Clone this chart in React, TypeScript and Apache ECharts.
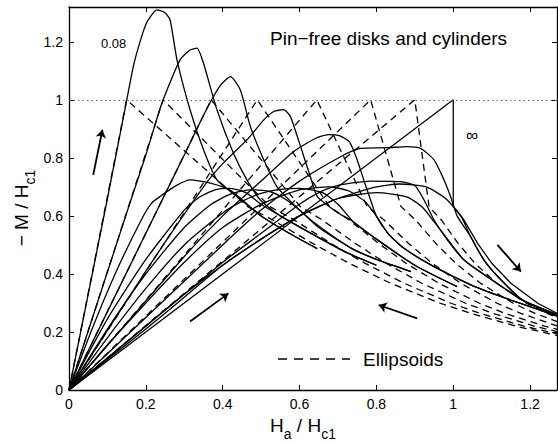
import React, { useEffect, useRef } from "react";
import * as echarts from "echarts";

// ---------- data (H_a/H_c1, -M/H_c1) ----------
const xTickStep = 0.2;
const yTickStep = 0.2;
const xMax = 1.27;
const yMax = 1.32;

// solid: pin-free disks and cylinders, increasing field
const ascA = [[0,0],[0.1,0.66],[0.146,0.97],[0.17,1.13],[0.2,1.26],[0.229,1.31],[0.25,1.3],[0.263,1.276],[0.281,1.138],[0.315,0.966],[0.35,0.828],[0.385,0.724],[0.42,0.685],[0.5,0.6],[0.58,0.535],[0.646,0.487]];
const ascB = [[0,0],[0.15,0.61],[0.2,0.81],[0.237,0.97],[0.26,1.05],[0.289,1.138],[0.315,1.172],[0.333,1.178],[0.35,1.126],[0.385,0.966],[0.428,0.816],[0.463,0.724],[0.498,0.655],[0.55,0.6],[0.65,0.525],[0.72,0.475],[0.8,0.43]];
const ascC = [[0,0],[0.2,0.54],[0.3,0.81],[0.359,0.97],[0.394,1.05],[0.42,1.08],[0.446,1.034],[0.472,0.908],[0.507,0.793],[0.541,0.701],[0.6,0.62],[0.65,0.565],[0.733,0.49],[0.8,0.45],[0.89,0.408]];
const ascD = [[0,0],[0.2,0.41],[0.35,0.7],[0.4,0.78],[0.463,0.862],[0.507,0.931],[0.533,0.96],[0.559,0.966],[0.576,0.943],[0.594,0.874],[0.611,0.805],[0.628,0.736],[0.646,0.667],[0.7,0.61],[0.733,0.586],[0.8,0.52],[0.9,0.43],[1.01,0.356]];
const ascE = [[0,0],[0.3,0.46],[0.4,0.6],[0.5,0.72],[0.585,0.822],[0.64,0.866],[0.675,0.88],[0.705,0.876],[0.73,0.855],[0.75,0.793],[0.767,0.724],[0.785,0.655],[0.8,0.598],[0.83,0.54],[0.87,0.49],[0.95,0.425],[1.05,0.36],[1.15,0.31],[1.27,0.255]];
const ascF = [[0,0],[0.4,0.5],[0.5,0.62],[0.6,0.72],[0.715,0.81],[0.759,0.833],[0.828,0.835],[0.88,0.839],[0.915,0.833],[0.95,0.793],[0.976,0.724],[0.993,0.667],[1.01,0.6],[1.045,0.529],[1.08,0.448],[1.124,0.38],[1.18,0.31],[1.27,0.255]];
const ascG = [[0,0],[0.4,0.44],[0.5,0.54],[0.6,0.64],[0.65,0.68],[0.7,0.705],[0.785,0.72],[0.863,0.718],[0.9,0.705],[0.924,0.655],[0.95,0.586],[0.985,0.517],[1.028,0.448],[1.1,0.38],[1.18,0.31],[1.27,0.26]];
const curveInf = [[0,0],[1,1],[1,0.632],[1.028,0.586],[1.063,0.506],[1.1,0.437],[1.15,0.368],[1.22,0.299],[1.27,0.264]];

// solid: decreasing field
const descA = [[0.646,0.487],[0.58,0.535],[0.5,0.6],[0.42,0.688],[0.368,0.713],[0.315,0.724],[0.28,0.705],[0.237,0.667],[0.215,0.644],[0.188,0.586],[0.12,0.4],[0.06,0.21],[0,0]];
const descB = [[0.8,0.43],[0.72,0.475],[0.65,0.525],[0.55,0.6],[0.5,0.64],[0.46,0.68],[0.42,0.695],[0.38,0.69],[0.34,0.665],[0.3,0.62],[0.2,0.45],[0.1,0.245],[0,0]];
const descC = [[0.89,0.408],[0.8,0.45],[0.733,0.49],[0.65,0.56],[0.6,0.62],[0.56,0.66],[0.52,0.685],[0.47,0.69],[0.42,0.675],[0.37,0.64],[0.3,0.56],[0.2,0.4],[0.1,0.21],[0,0]];
const descD = [[1.01,0.356],[0.9,0.43],[0.8,0.52],[0.74,0.58],[0.7,0.64],[0.66,0.68],[0.6,0.695],[0.54,0.69],[0.5,0.678],[0.45,0.65],[0.4,0.61],[0.3,0.5],[0.2,0.35],[0.1,0.18],[0,0]];
const descE = [[1.27,0.255],[1.15,0.31],[1.05,0.36],[0.95,0.425],[0.87,0.49],[0.83,0.54],[0.8,0.6],[0.77,0.65],[0.73,0.685],[0.68,0.7],[0.6,0.69],[0.5,0.64],[0.4,0.56],[0.3,0.44],[0.2,0.3],[0.1,0.155],[0,0]];
const descF = [[1.27,0.255],[1.18,0.31],[1.124,0.38],[1.08,0.448],[1.045,0.529],[1.02,0.6],[0.98,0.66],[0.93,0.7],[0.86,0.71],[0.8,0.7],[0.7,0.66],[0.6,0.6],[0.5,0.52],[0.4,0.43],[0.3,0.33],[0.2,0.22],[0.1,0.11],[0,0]];
const descG = [[1.27,0.26],[1.18,0.31],[1.1,0.38],[1.028,0.448],[0.985,0.52],[0.95,0.58],[0.92,0.63],[0.88,0.665],[0.8,0.68],[0.7,0.66],[0.6,0.6],[0.5,0.52],[0.4,0.43],[0.3,0.32],[0.2,0.21],[0.1,0.105],[0,0]];

// dashed: ellipsoids with the same initial slopes
const ellA = [[0,0],[0.15,1],[0.465,0.632],[0.53,0.586],[0.633,0.506],[0.729,0.437],[0.837,0.368],[0.966,0.299],[1.046,0.264],[1.163,0.22],[1.297,0.18]];
const ellB = [[0,0],[0.245,1],[0.523,0.632],[0.586,0.586],[0.681,0.506],[0.77,0.437],[0.872,0.368],[0.994,0.299],[1.071,0.264],[1.184,0.22],[1.314,0.18]];
const ellC = [[0,0],[0.37,1],[0.602,0.632],[0.659,0.586],[0.744,0.506],[0.825,0.437],[0.918,0.368],[1.032,0.299],[1.104,0.264],[1.211,0.22],[1.337,0.18]];
const ellD = [[0,0],[0.49,1],[0.678,0.632],[0.729,0.586],[0.805,0.506],[0.877,0.437],[0.962,0.368],[1.068,0.299],[1.135,0.264],[1.238,0.22],[1.358,0.18]];
const ellE = [[0,0],[0.645,1],[0.776,0.632],[0.82,0.586],[0.883,0.506],[0.945,0.437],[1.019,0.368],[1.114,0.299],[1.176,0.264],[1.272,0.22]];
const ellF = [[0,0],[0.785,1],[0.864,0.632],[0.902,0.586],[0.954,0.506],[1.006,0.437],[1.071,0.368],[1.156,0.299],[1.213,0.264],[1.303,0.22]];
const ellG = [[0,0],[0.9,1],[0.937,0.632],[0.969,0.586],[1.012,0.506],[1.056,0.437],[1.113,0.368],[1.19,0.299],[1.244,0.264],[1.328,0.22]];

// direction arrows [tail, head]
const arrows = [
  [[0.063, 0.741], [0.087, 0.897]],
  [[0.315, 0.236], [0.415, 0.333]],
  [[0.906, 0.247], [0.806, 0.293]],
  [[1.115, 0.5], [1.176, 0.408]],
];

const FONT = "'Liberation Sans', Arial, Helvetica, sans-serif";

const solidCurves = [ascA, ascB, ascC, ascD, ascE, ascF, ascG, descA, descB, descC, descD, descE, descF, descG];
const dashedCurves = [ellA, ellB, ellC, ellD, ellE, ellF, ellG];

export default function App() {
  const ref = useRef<HTMLDivElement>(null);
  useEffect(() => {
    if (!ref.current) return;
    const chart = echarts.init(ref.current, undefined, { renderer: "svg" });

    const series: any[] = [];
    solidCurves.forEach((d, i) => {
      series.push({
        name: "Disks" + i,
        type: "line",
        data: d,
        showSymbol: false,
        symbol: "none",
        smooth: 0.2,
        lineStyle: { color: "#000", width: 1.3 },
        silent: true,
        z: 3,
      });
    });
    dashedCurves.forEach((d) => {
      series.push({
        name: "Ellipsoids",
        type: "line",
        data: d,
        showSymbol: false,
        symbol: "none",
        lineStyle: { color: "#000", width: 1.3, type: [7, 5] },
        itemStyle: { color: "#000" },
        silent: true,
        z: 2,
      });
    });
    series.push({
      name: "Infinite",
      type: "line",
      data: curveInf,
      showSymbol: false,
      symbol: "none",
      lineStyle: { color: "#000", width: 1.3 },
      silent: true,
      z: 3,
      markLine: {
        silent: true,
        symbol: ["none", "none"],
        label: { show: false },
        data: [
          { yAxis: 1, lineStyle: { type: [1.5, 3], color: "#666", width: 1 } },
          ...arrows.map((a) => [
            { coord: a[0], symbol: "none", lineStyle: { type: "solid", color: "#000", width: 1.8 } },
            { coord: a[1], symbol: "arrow", symbolSize: 8 },
          ]),
        ],
      },
    });

    const axisCommon = {
      type: "value" as const,
      splitLine: { show: false },
      axisLine: { show: true, onZero: false, lineStyle: { color: "#000", width: 1.3 } },
      axisTick: { show: true, inside: true, length: 5, lineStyle: { color: "#000" } },
    };

    chart.setOption({
      animation: false,
      grid: { left: 69, right: 1, top: 7, bottom: 53 },
      xAxis: [
        {
          ...axisCommon,
          min: 0,
          max: xMax,
          interval: xTickStep,
          position: "bottom",
          axisLabel: { fontFamily: FONT, fontSize: 14, color: "#000", margin: 7, showMaxLabel: false },
        },
        {
          ...axisCommon,
          min: 0,
          max: xMax,
          interval: xTickStep,
          position: "top",
          axisLabel: { show: false },
        },
      ],
      yAxis: [
        {
          ...axisCommon,
          min: 0,
          max: yMax,
          interval: yTickStep,
          position: "left",
          axisLabel: { fontFamily: FONT, fontSize: 14, color: "#000", margin: 6, showMaxLabel: false },
        },
        {
          ...axisCommon,
          min: 0,
          max: yMax,
          interval: yTickStep,
          position: "right",
          axisLabel: { show: false },
        },
      ],
      graphic: [
        {
          type: "text",
          left: 270,
          top: 29,
          style: { text: "Pin\u2212free disks and cylinders", font: `19px ${FONT}`, fill: "#000" },
        },
        {
          type: "text",
          left: 101,
          top: 37,
          style: { text: "0.08", font: `13px ${FONT}`, fill: "#000" },
        },
        {
          type: "text",
          left: 466,
          top: 127,
          style: { text: "\u221e", font: `17px ${FONT}`, fill: "#000" },
        },
        {
          type: "line",
          shape: { x1: 278, y1: 359, x2: 350, y2: 359 },
          style: { stroke: "#000", lineWidth: 1.3, lineDash: [9, 7] },
        },
        {
          type: "text",
          left: 363,
          top: 350,
          style: { text: "Ellipsoids", font: `19px ${FONT}`, fill: "#000" },
        },
        {
          type: "text",
          x: 303,
          y: 428,
          style: {
            text: "{m|H}{s|a}{m| / H}{s|c1}",
            align: "center",
            verticalAlign: "middle",
            fill: "#000",
            rich: {
              m: { fontFamily: FONT, fontSize: 19, padding: [0, 0, 6, 0], verticalAlign: "bottom" },
              s: { fontFamily: FONT, fontSize: 14, verticalAlign: "bottom" },
            },
          },
        },
        {
          type: "text",
          x: 24,
          y: 208,
          rotation: Math.PI / 2,
          style: {
            text: "{m|\u2212 M / H}{s|c1}",
            align: "center",
            verticalAlign: "middle",
            fill: "#000",
            rich: {
              m: { fontFamily: FONT, fontSize: 19, padding: [0, 0, 6, 0], verticalAlign: "bottom" },
              s: { fontFamily: FONT, fontSize: 14, verticalAlign: "bottom" },
            },
          },
        },
      ],
      series,
    });
    return () => chart.dispose();
  }, []);
  return (
    <div
      ref={ref}
      style={{ position: "fixed", left: 0, top: 0, width: 558, height: 443, background: "#fff" }}
    />
  );
}
